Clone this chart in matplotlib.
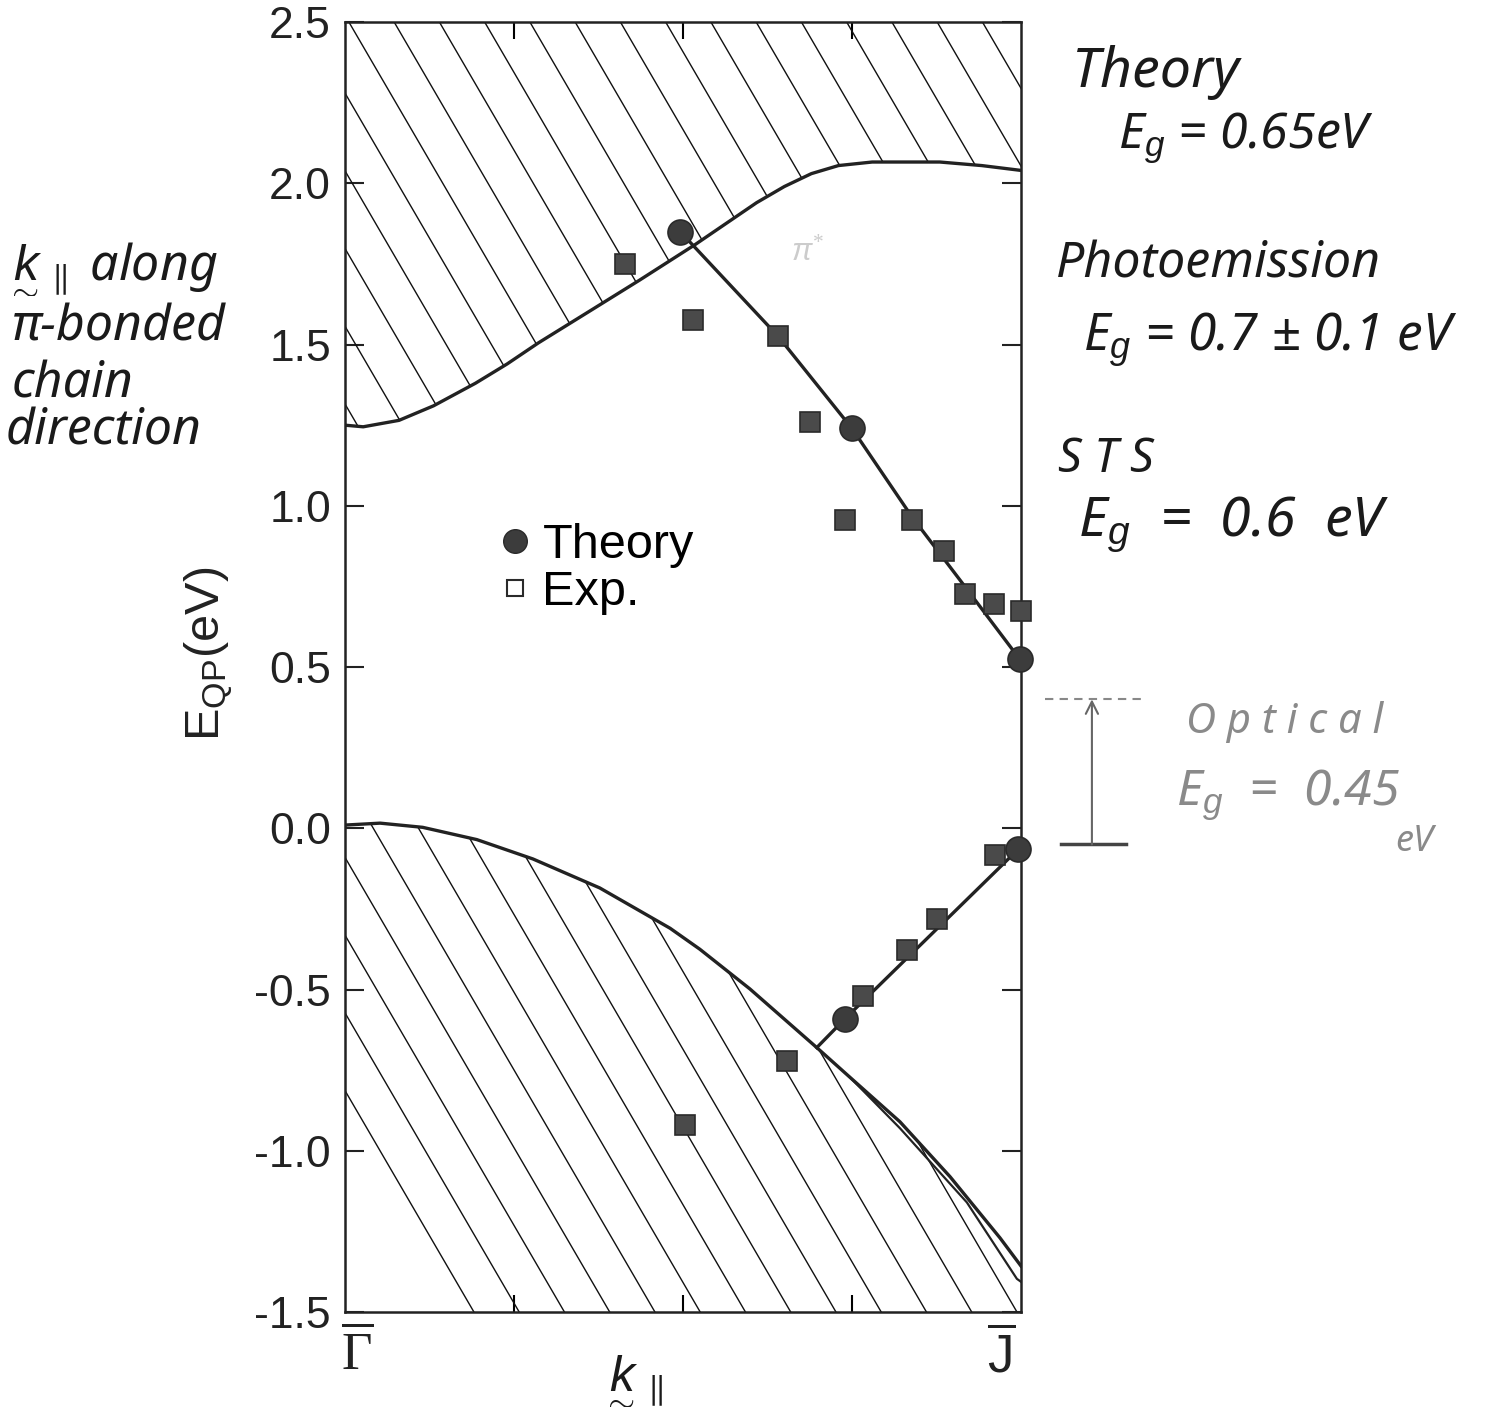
import numpy as np
import matplotlib
matplotlib.use('Agg')
import matplotlib.pyplot as plt
from matplotlib.lines import Line2D
from matplotlib.transforms import ScaledTranslation

plt.rcParams['font.family'] = ['Liberation Sans', 'DejaVu Sans']
plt.rcParams['axes.unicode_minus'] = False
plt.rcParams['mathtext.fontset'] = 'custom'
plt.rcParams['mathtext.rm'] = 'Liberation Serif'
plt.rcParams['mathtext.sf'] = 'Liberation Sans'
plt.rcParams['mathtext.it'] = 'Liberation Sans:italic'

# band edges (k along Gamma-J, energy in eV)
cb_edge_k = [0.0, 0.027, 0.08, 0.131, 0.193, 0.24, 0.286, 0.363, 0.436, 0.518,
             0.609, 0.65, 0.69, 0.73, 0.78, 0.88, 0.942, 1.0]
cb_edge_e = [1.25, 1.245, 1.265, 1.31, 1.38, 1.44, 1.505, 1.605, 1.70, 1.81,
             1.94, 1.99, 2.03, 2.055, 2.066, 2.066, 2.055, 2.04]
vb_edge_k = [0.0, 0.052, 0.115, 0.195, 0.278, 0.377, 0.481, 0.525, 0.599, 0.698,
             0.747, 0.821, 0.895, 0.969, 1.0]
vb_edge_e = [0.01, 0.016, 0.003, -0.035, -0.095, -0.185, -0.31, -0.375, -0.498, -0.68,
             -0.772, -0.91, -1.08, -1.27, -1.357]
vb2_k = [0.747, 0.821, 0.920, 0.994, 1.0]
vb2_e = [-0.772, -0.93, -1.16, -1.397, -1.406]

# surface state dispersion
line_cb_k = [0.496, 0.641, 0.750, 0.839, 0.917, 0.998]
line_cb_e = [1.85, 1.525, 1.24, 0.965, 0.75, 0.525]
line_vb_k = [0.698, 0.740, 0.996]
line_vb_e = [-0.68, -0.59, -0.065]

# theory points
th_k = [0.496, 0.750, 0.998, 0.740, 0.996]
th_e = [1.85, 1.24, 0.525, -0.59, -0.065]

# photoemission points
exp_k = [0.414, 0.515, 0.641, 0.688, 0.740, 0.839, 0.886, 0.917, 0.960, 1.0,
         0.503, 0.654, 0.766, 0.831, 0.876, 0.962]
exp_e = [1.75, 1.576, 1.525, 1.26, 0.956, 0.956, 0.861, 0.728, 0.696, 0.674,
         -0.92, -0.723, -0.52, -0.378, -0.28, -0.083]

optical_base = -0.05
optical_gap = 0.45

yticks = [-1.5, -1.0, -0.5, 0.0, 0.5, 1.0, 1.5, 2.0, 2.5]

fig = plt.figure(figsize=(14.85, 14.14), dpi=100)
ax = fig.add_axes([0.2323, 0.0721, 0.4552, 0.9123])
ax.set_xlim(0, 1)
ax.set_ylim(-1.5, 2.5)

# hatched projected bulk bands
slope = 3.6
step = 0.241
up = ax.fill_between(cb_edge_k, cb_edge_e, 2.5, facecolor='none', edgecolor='none')
lo = ax.fill_between(vb_edge_k, -1.5, vb_edge_e, facecolor='none', edgecolor='none')
kk = np.array([-0.1, 1.1])
for c in 2.28 + step * np.arange(-6, 20):
    l, = ax.plot(kk, c - slope * kk, color='#111111', lw=1.0)
    l.set_clip_path(up.get_paths()[0], ax.transData)
for c in -0.09 + step * np.arange(-3, 18):
    l, = ax.plot(kk, c - slope * kk, color='#111111', lw=1.0)
    l.set_clip_path(lo.get_paths()[0], ax.transData)

ax.plot(cb_edge_k, cb_edge_e, color='#222222', lw=2.4)
ax.plot(vb_edge_k, vb_edge_e, color='#222222', lw=2.4)
ax.plot(vb2_k, vb2_e, color='#222222', lw=1.6)
ax.plot(line_cb_k, line_cb_e, color='#222222', lw=2.4)
ax.plot(line_vb_k, line_vb_e, color='#222222', lw=2.4)

ax.plot(exp_k, exp_e, 's', ms=15, mfc='#4a4a4a', mec='#2a2a2a', mew=1.2,
        clip_on=False, zorder=5)
ax.plot(th_k, th_e, 'o', ms=18, mfc='#3c3c3c', mec='#2a2a2a', mew=1.2,
        clip_on=False, zorder=6)

# legend
handles = [Line2D([], [], ls='none', marker='o', ms=17, mfc='#3c3c3c', mec='#2a2a2a'),
           Line2D([], [], ls='none', marker='s', ms=12, mfc='white', mec='#2a2a2a', mew=1.5)]
ax.legend(handles, ['Theory', 'Exp.'], loc='upper left', bbox_to_anchor=(0.19, 0.627),
          frameon=False, fontsize=35, handletextpad=0.12, labelspacing=0.05,
          handlelength=0.9, borderaxespad=0)

for s in ax.spines.values():
    s.set_linewidth(1.8)
    s.set_color('#222222')

ax.set_yticks(yticks)
ax.set_yticklabels([f'{v:.1f}' for v in yticks])
ax.tick_params(axis='y', direction='in', length=14, width=1.5, right=True,
               labelsize=32, pad=10, colors='#222222')
ax.set_xticks([0, 1])
ax.set_xticklabels([r'$\overline{\Gamma}$', r'$\overline{\mathsf{J}}$'])
ax.tick_params(axis='x', which='major', length=0, labelsize=38, pad=12, colors='#222222')
ax.set_xticks([0.25, 0.5, 0.75], minor=True)
ax.tick_params(axis='x', which='minor', direction='in', length=12, width=1.5, top=True)
gam, jay = ax.get_xticklabels()
gam.set_transform(gam.get_transform() + ScaledTranslation(0.12, 0, fig.dpi_scale_trans))
jay.set_transform(jay.get_transform() + ScaledTranslation(-0.2, 0, fig.dpi_scale_trans))

ax.set_ylabel(r'E$_{\mathsf{QP}}$(eV)', fontsize=35, color='#222222')
ax.yaxis.set_label_coords(-0.163, 0.51)

# optical gap marker
xa = 1.105
ax.annotate('', xy=(xa, optical_base + optical_gap), xytext=(xa, optical_base),
            arrowprops=dict(arrowstyle='->', color='#666666', lw=1.5,
                            mutation_scale=22, shrinkA=0, shrinkB=0),
            annotation_clip=False)
ax.plot([1.06, 1.155], [optical_base, optical_base], color='#444444', lw=2.5, clip_on=False)
ax.plot([1.035, 1.18], [optical_base + optical_gap] * 2, color='#888888', lw=1.5,
        ls=(0, (4, 3)), clip_on=False)

ax.text(0.66, 1.76, r'$\pi^{*}$', fontsize=22, color='#cccccc')

# notes
hw = dict(family=['Noto Sans', 'DejaVu Sans'], style='italic', color='#1a1a1a')
W, H = 1485.0, 1414.0


def note(x, y, s, size=30, **kw):
    opts = dict(hw)
    opts.update(kw)
    fig.text(x / W, 1 - y / H, s, fontsize=size, ha='left', va='center', **opts)


note(1072, 72, 'Theory', 40)
note(1118, 138, r'E$_g$ = 0.65eV', 36)
note(1056, 265, 'Photoemission', 36)
note(1083, 340, r'E$_g$ = 0.7 ± 0.1 eV', 37)
note(1058, 460, 'S T S', 34)
note(1078, 525, r'E$_g$  =  0.6  eV', 40)
note(1186, 722, 'O p t i c a l', 30, color='#8a8a8a')
note(1176, 795, r'E$_g$  =  0.45', 36, color='#8a8a8a')
note(1395, 842, 'eV', 26, color='#8a8a8a')

note(6, 268, r'$\underset{\sim}{k}_{\parallel}$ along', 36)
note(12, 328, 'π-bonded', 36)
note(12, 385, 'chain', 36)
note(6, 432, 'direction', 36)

fig.text(632 / W, 1 - 1380 / H, r'$\underset{\sim}{k}_{\parallel}$', fontsize=36,
         ha='center', va='center', color='#1a1a1a')

fig.savefig('out.png', dpi=100)
